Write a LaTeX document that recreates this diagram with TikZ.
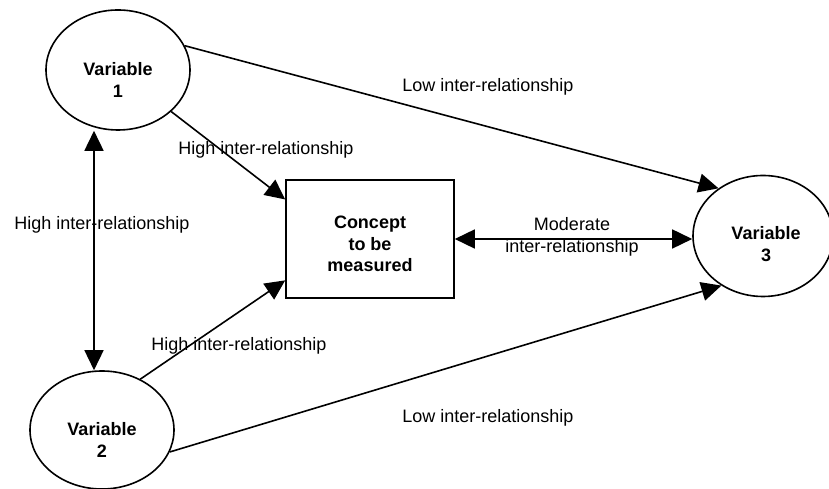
\documentclass[tikz,border=0pt]{standalone}
\usepackage{fontspec}
\setmainfont{Liberation Sans}
\usetikzlibrary{arrows.meta, shapes.geometric}
\tikzset{>={Triangle[length=20pt, width=19pt]}}
\tikzset{
    var/.style={draw, ellipse, inner sep=0pt, minimum width=144pt, minimum height=120pt},
    concept/.style={draw, rectangle, inner sep=0pt, minimum width=168pt, minimum height=118pt},
    boldtext/.style={align=center, inner sep=0pt, font=\fontsize{18}{21.5}\selectfont\bfseries},
    rel/.style={align=center, inner sep=0pt}
}

\begin{document}
\begin{tikzpicture}[x=100pt, y=100pt, line width=1.6pt, font=\fontsize{18}{22}\selectfont]
    \useasboundingbox (0, 0) rectangle (8.29, 4.89);
    % the three variables and the concept
    \node[var] (v1) at (1.18, 4.19) {};
    \node[var, minimum height=118pt] (v2) at (1.02, 0.59) {};
    \node[var, minimum width=140pt, minimum height=121pt] (v3) at (7.63, 2.53) {};
    \node[concept] (box) at (3.70, 2.50) {};
    \node[boldtext] (v1t) at (1.18, 4.09) {Variable\\1};
    \node[boldtext] (v2t) at (1.02, 0.49) {Variable\\2};
    \node[boldtext] (v3t) at (7.66, 2.45) {Variable\\3};
    \node[boldtext] (boxt) at (3.70, 2.45) {Concept\\to be\\measured};
    % connectors
    \coordinate (lx) at (0.94, 0);
    \draw[->] (v1.20) -- (v3.133);
    \draw[->] (v2.-18) -- (v3.230);
    \draw[->] (v1.-38) -- (box.155);
    \draw[->] (v2.53) -- (box.206);
    \draw[<->] (v1.south -| lx) -- (v2.north -| lx);
    \draw[<->] (box.east) -- (box.east -| v3.west);
    % labels
    \node[rel] (low1) at (4.88, 4.02) {Low inter-relationship};
    \node[rel] (high1) at (2.66, 3.39) {High inter-relationship};
    \node[rel] (high12) at (1.02, 2.64) {High inter-relationship};
    \node[rel] (high2) at (2.39, 1.43) {High inter-relationship};
    \node[rel] (mod) at (5.72, 2.52) {Moderate\\inter-relationship};
    \node[rel] (low2) at (4.88, 0.71) {Low inter-relationship};
\end{tikzpicture}
\end{document}
